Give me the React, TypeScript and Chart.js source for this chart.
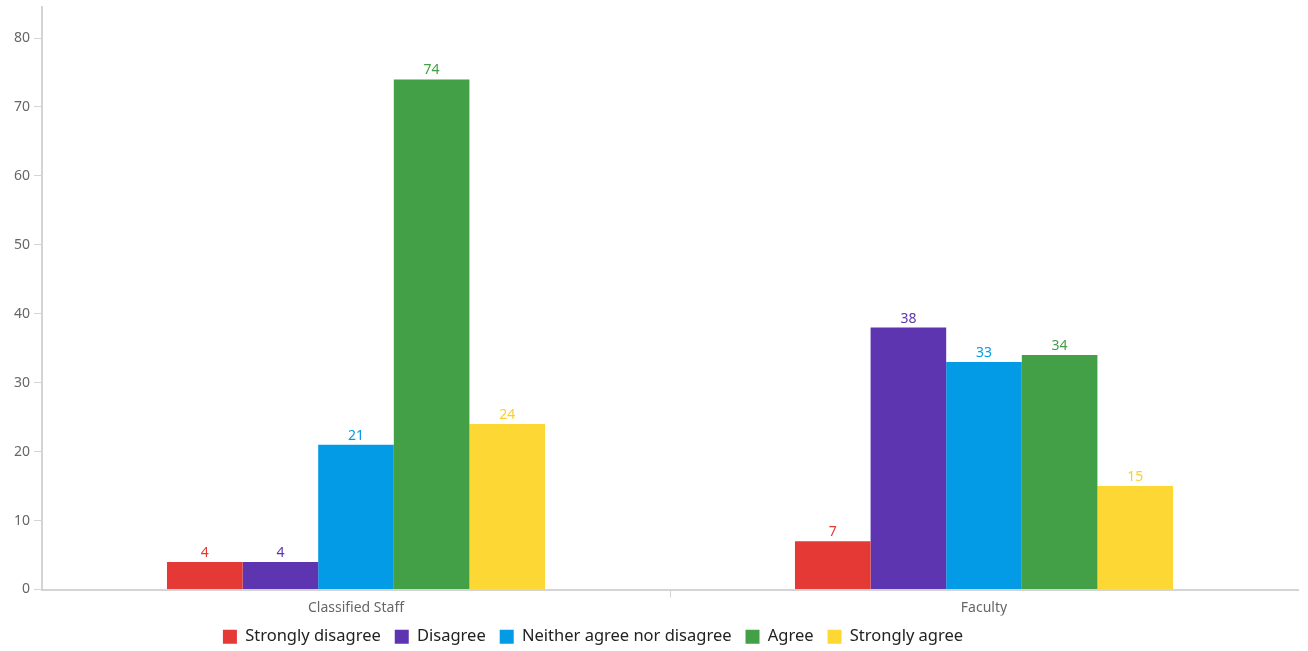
import React, { useEffect, useRef } from "react";
import { Chart, registerables } from "chart.js";

Chart.register(...registerables);

const categories = ["Classified Staff", "Faculty"];
const seriesNames = ["Strongly disagree", "Disagree", "Neither agree nor disagree", "Agree", "Strongly agree"];
const stronglyDisagree = [4, 7];
const disagree = [4, 38];
const neither = [21, 33];
const agree = [74, 34];
const stronglyAgree = [24, 15];
const seriesColors = ["#E53935", "#5E35B1", "#039BE5", "#43A047", "#FDD835"];
const labelColors = ["#E53935", "#5E35B1", "#039BE5", "#43A047", "#F9CF2A"];
const yTicks = [0, 10, 20, 30, 40, 50, 60, 70, 80];

const FONT = "'Noto Sans', sans-serif";
const AXIS = "#d4d4d4";

const valueLabels = {
  id: "valueLabels",
  afterDatasetsDraw(chart: any) {
    const ctx = chart.ctx;
    ctx.save();
    ctx.font = `14px ${FONT}`;
    ctx.textAlign = "center";
    ctx.textBaseline = "bottom";
    chart.data.datasets.forEach((ds: any, i: number) => {
      const meta = chart.getDatasetMeta(i);
      meta.data.forEach((bar: any, j: number) => {
        ctx.fillStyle = labelColors[i];
        ctx.fillText(String(Math.round(ds.data[j])), bar.x, bar.y - 2);
      });
    });
    ctx.restore();
  },
};

const legendShift = {
  id: "legendShift",
  afterLayout(chart: any) {
    const lg = chart.legend;
    if (lg) {
      lg.left -= 56;
      lg.right -= 56;
      lg.top -= 1;
      lg.bottom -= 1;
    }
  },
};

export default function App() {
  const ref = useRef<HTMLCanvasElement>(null);
  useEffect(() => {
    const data = [stronglyDisagree, disagree, neither, agree, stronglyAgree];
    const chart = new Chart(ref.current!, {
      type: "bar",
      data: {
        labels: categories,
        datasets: seriesNames.map((n, i) => ({
          label: n,
          data: data[i],
          backgroundColor: seriesColors[i],
          borderWidth: 0,
          barPercentage: 1,
          categoryPercentage: 0.602,
        })),
      },
      options: {
        animation: false,
        responsive: true,
        maintainAspectRatio: false,
        layout: { padding: { left: 0, right: 10, top: 7, bottom: -5 } },
        plugins: {
          tooltip: { enabled: false },
          legend: {
            position: "bottom",
            labels: {
              boxWidth: 14,
              boxHeight: 14,
              padding: 14,
              color: "#222",
              font: { family: FONT, size: 16.5 },
            },
          },
        },
        scales: {
          x: {
            grid: {
              display: true,
              drawOnChartArea: false,
              drawTicks: true,
              tickLength: 8,
              offset: true,
              color: (c: any) => (c.index === 1 ? AXIS : "rgba(0,0,0,0)"),
            },
            border: { color: AXIS, width: 2 },
            ticks: { color: "#666", font: { family: FONT, size: 14 }, padding: 2 },
            afterFit(scale: any) {
              scale.height = 26;
            },
          },
          y: {
            min: 0,
            max: 84.5,
            grid: { display: true, drawOnChartArea: false, drawTicks: true, tickLength: 8, color: AXIS },
            border: { color: AXIS, width: 2 },
            afterBuildTicks(scale: any) {
              scale.ticks = yTicks.map((v) => ({ value: v }));
            },
            ticks: { color: "#666", font: { family: FONT, size: 14 }, padding: 4, includeBounds: false },
            afterFit(scale: any) {
              scale.width = 42;
              scale.paddingTop = 0;
              scale.paddingBottom = 0;
            },
          },
        },
      },
      plugins: [valueLabels, legendShift],
    });
    return () => chart.destroy();
  }, []);
  return (
    <div style={{ position: "fixed", left: 0, top: 0, width: 1308, height: 651, background: "#fff" }}>
      <canvas ref={ref} />
    </div>
  );
}
